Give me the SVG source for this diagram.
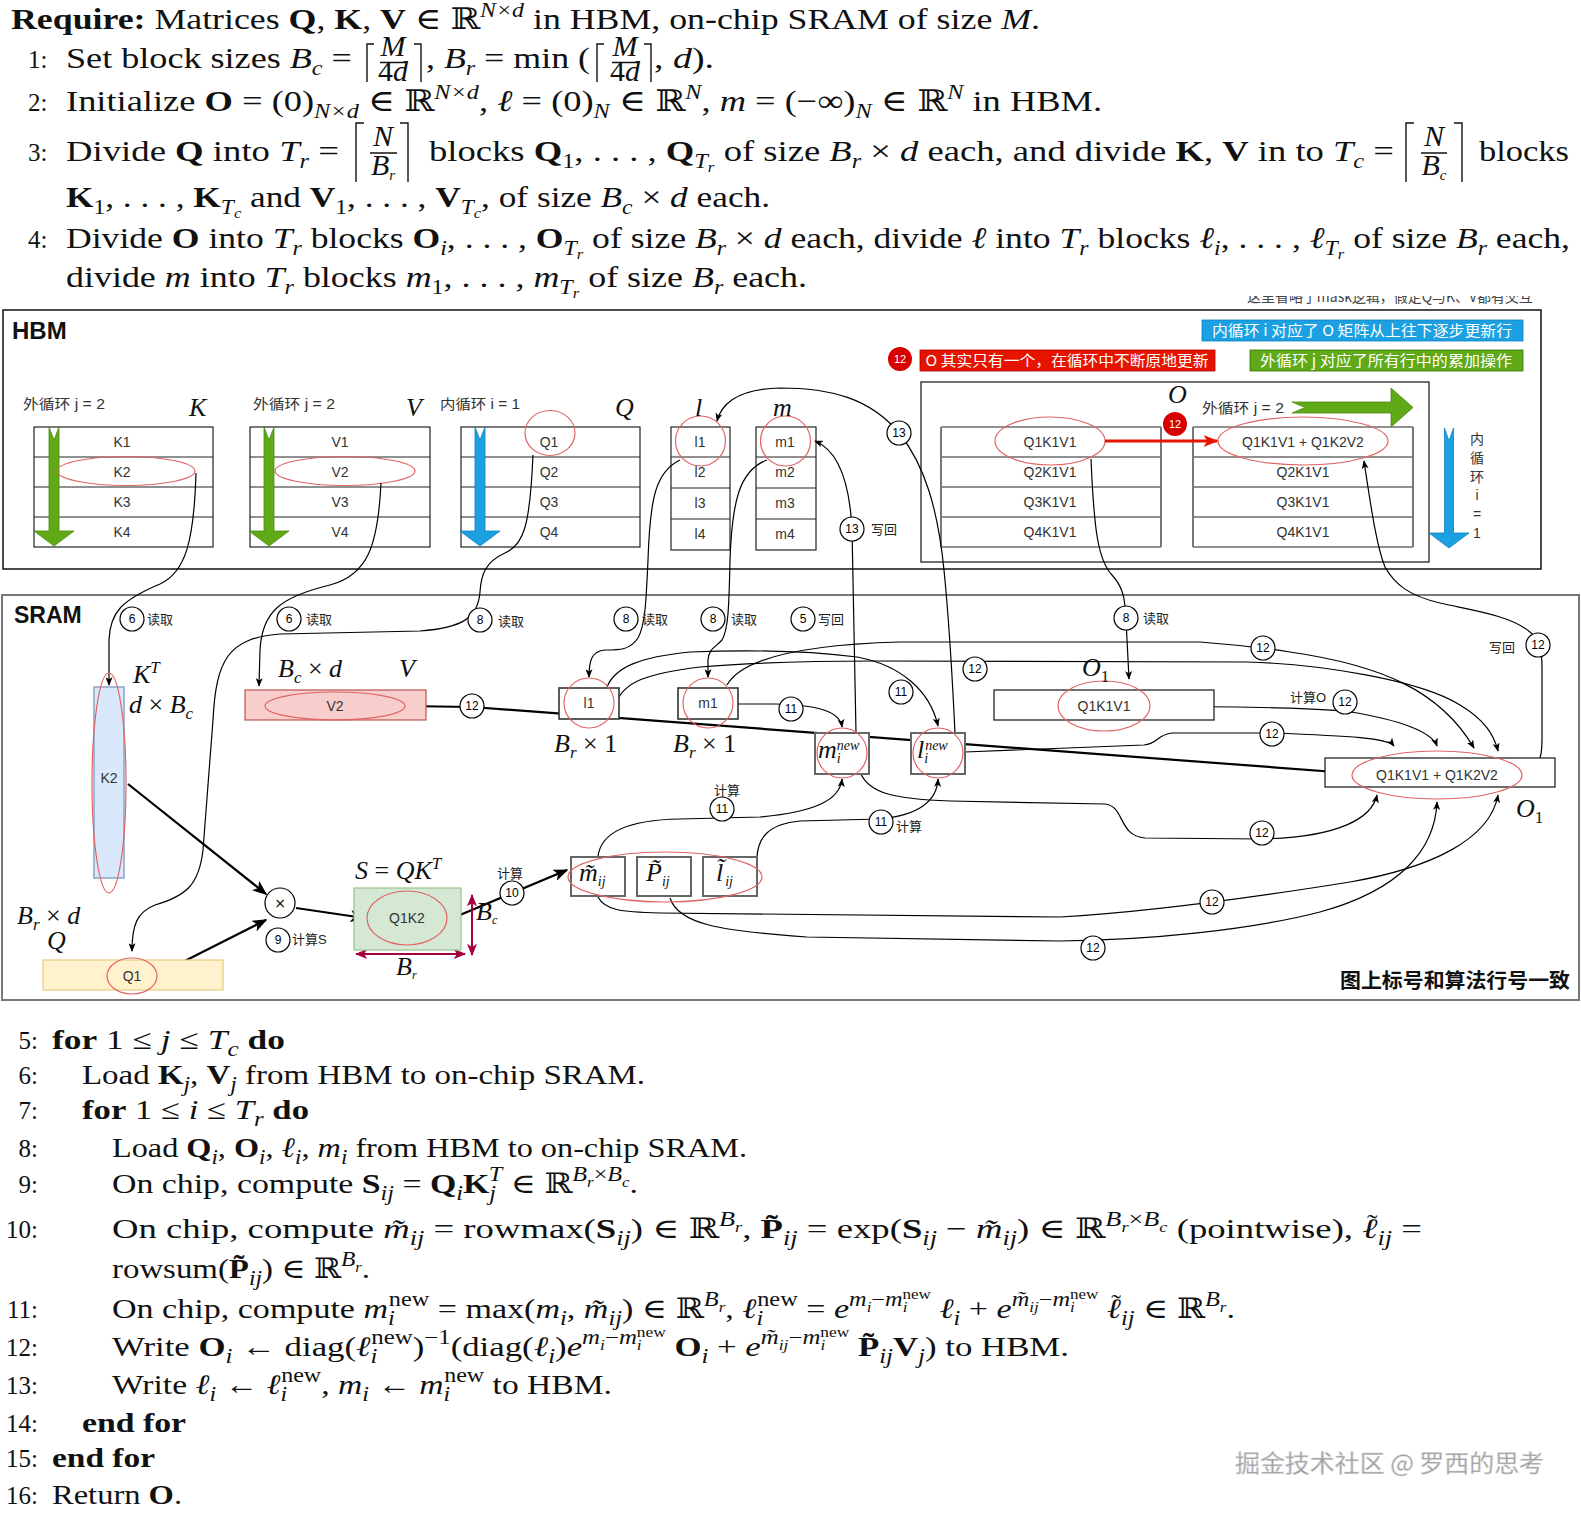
<svg xmlns="http://www.w3.org/2000/svg" width="1581" height="1513" viewBox="0 0 1581 1513">
<style>
.t{font-family:"Liberation Serif","DejaVu Serif",serif;font-size:30px;fill:#111}
.t2{font-family:"Liberation Serif","DejaVu Serif",serif;font-size:28px;fill:#111}
.n{font-family:"Liberation Serif","DejaVu Serif",serif;font-size:25px;fill:#111}
.b{font-weight:bold}
.i{font-style:italic}
.sb{font-size:20px;baseline-shift:-7px}
.sp{font-size:20px;baseline-shift:12px}
.ssb{font-size:14px;baseline-shift:6px}
.ssp{font-size:14px;baseline-shift:19px}
.sss{font-size:14px;baseline-shift:-11px}
.tl{font-size:24px;baseline-shift:7px;font-style:normal}
.s{font-family:"Liberation Sans","Noto Sans CJK SC",sans-serif;font-size:14px;fill:#333}
.cj{font-family:"Liberation Sans","Noto Sans CJK SC",sans-serif;font-size:13px;fill:#222}
.lb{font-family:"Liberation Sans",sans-serif;font-size:12px;fill:#000;text-anchor:middle}
.m{font-family:"Liberation Serif","DejaVu Serif",serif;font-style:italic;font-size:26px;fill:#111}
.msb{font-size:17px;baseline-shift:-6px}
.msp{font-size:17px;baseline-shift:10px}
.tb line{stroke:#222;stroke-width:1.2}
.tb rect{fill:#fff;stroke:#222;stroke-width:1.2}
.red{fill:none;stroke:#e06464;stroke-width:1.2}
.c{fill:none;stroke:#000;stroke-width:1.2}
.ck{fill:none;stroke:#000;stroke-width:2.2}
.lc{fill:#fff;stroke:#000;stroke-width:1.2}
.br{fill:none;stroke:#111;stroke-width:1.4}
</style>
<defs>
<marker id="a" viewBox="0 0 10 8" refX="9" refY="4" markerWidth="9" markerHeight="7" markerUnits="userSpaceOnUse" orient="auto"><path d="M0,0 L10,4 L0,8 L2.5,4 z" fill="#000"/></marker>
<marker id="ak" viewBox="0 0 10 8" refX="9" refY="4" markerWidth="15" markerHeight="12" markerUnits="userSpaceOnUse" orient="auto"><path d="M0,0 L10,4 L0,8 L2.5,4 z" fill="#000"/></marker>
<marker id="ar" viewBox="0 0 10 8" refX="9" refY="4" markerWidth="15" markerHeight="12" markerUnits="userSpaceOnUse" orient="auto"><path d="M0,0 L10,4 L0,8 L2.5,4 z" fill="#e51400"/></marker>
<marker id="ad" viewBox="0 0 10 8" refX="9" refY="4" markerWidth="13" markerHeight="10" markerUnits="userSpaceOnUse" orient="auto-start-reverse"><path d="M0,0 L10,4 L0,8 L2.5,4 z" fill="#a50040"/></marker>
<clipPath id="cl"><rect x="1200" y="296" width="380" height="13"/></clipPath>
</defs>
<rect width="1581" height="1513" fill="#fff"/>

<g id="algo-top">
<text class="t" x="11" y="29" textLength="1029" lengthAdjust="spacingAndGlyphs"><tspan class="b">Require:</tspan> Matrices <tspan class="b">Q</tspan>, <tspan class="b">K</tspan>, <tspan class="b">V</tspan> ∈ ℝ<tspan class="sp i">N×d</tspan> in HBM, on-chip SRAM of size <tspan class="i">M</tspan>.</text>
<text class="n" x="28" y="68">1:</text>
<text class="t" x="66" y="68" textLength="286" lengthAdjust="spacingAndGlyphs">Set block sizes <tspan class="i">B</tspan><tspan class="sb i">c</tspan> =</text>
<path class="br" d="M374,44 L367,44 L367,82 M414,44 L421,44 L421,82 M380,62.5 L407,62.5 M604,44 L597,44 L597,82 M644,44 L651,44 L651,82 M612,62.5 L638,62.5"/>
<text class="t i" x="393" y="56" font-size="19" text-anchor="middle">M</text>
<text class="t" x="393" y="81" font-size="19" text-anchor="middle">4<tspan class="i">d</tspan></text>
<text class="t" x="426" y="68" textLength="164" lengthAdjust="spacingAndGlyphs">, <tspan class="i">B</tspan><tspan class="sb i">r</tspan> = min (</text>
<text class="t i" x="625" y="56" font-size="19" text-anchor="middle">M</text>
<text class="t" x="625" y="81" font-size="19" text-anchor="middle">4<tspan class="i">d</tspan></text>
<text class="t" x="654" y="68" textLength="60" lengthAdjust="spacingAndGlyphs">, <tspan class="i">d</tspan>).</text>
<text class="n" x="28" y="111">2:</text>
<text class="t" x="66" y="111" textLength="1036" lengthAdjust="spacingAndGlyphs">Initialize <tspan class="b">O</tspan> = (0)<tspan class="sb i">N×d</tspan> ∈ ℝ<tspan class="sp i">N×d</tspan>, <tspan class="i">ℓ</tspan> = (0)<tspan class="sb i">N</tspan> ∈ ℝ<tspan class="sp i">N</tspan>, <tspan class="i">m</tspan> = (−∞)<tspan class="sb i">N</tspan> ∈ ℝ<tspan class="sp i">N</tspan> in HBM.</text>
<text class="n" x="28" y="161">3:</text>
<text class="t" x="66" y="161" textLength="273" lengthAdjust="spacingAndGlyphs">Divide <tspan class="b">Q</tspan> into <tspan class="i">T</tspan><tspan class="sb i">r</tspan> =</text>
<path class="br" d="M364,123 L356,123 L356,182 M400,123 L408,123 L408,182 M370,153 L397,153 M1414,123 L1406,123 L1406,182 M1454,123 L1462,123 L1462,182 M1421,153 L1447,153"/>
<text class="t i" x="383" y="146" font-size="22" text-anchor="middle">N</text>
<text class="t i" x="383" y="175" font-size="22" text-anchor="middle">B<tspan font-size="15" baseline-shift="-5">r</tspan></text>
<text class="t" x="429" y="161" textLength="965" lengthAdjust="spacingAndGlyphs">blocks <tspan class="b">Q</tspan><tspan class="sb">1</tspan>, . . . , <tspan class="b">Q</tspan><tspan class="sb i">T</tspan><tspan class="sss i">r</tspan> of size <tspan class="i">B</tspan><tspan class="sb i">r</tspan> × <tspan class="i">d</tspan> each, and divide <tspan class="b">K</tspan>, <tspan class="b">V</tspan> in to <tspan class="i">T</tspan><tspan class="sb i">c</tspan> =</text>
<text class="t i" x="1434" y="146" font-size="22" text-anchor="middle">N</text>
<text class="t i" x="1434" y="175" font-size="22" text-anchor="middle">B<tspan font-size="15" baseline-shift="-5">c</tspan></text>
<text class="t" x="1479" y="161" textLength="90" lengthAdjust="spacingAndGlyphs">blocks</text>
<text class="t" x="66" y="207" textLength="704" lengthAdjust="spacingAndGlyphs"><tspan class="b">K</tspan><tspan class="sb">1</tspan>, . . . , <tspan class="b">K</tspan><tspan class="sb i">T</tspan><tspan class="sss i">c</tspan> and <tspan class="b">V</tspan><tspan class="sb">1</tspan>, . . . , <tspan class="b">V</tspan><tspan class="sb i">T</tspan><tspan class="sss i">c</tspan>, of size <tspan class="i">B</tspan><tspan class="sb i">c</tspan> × <tspan class="i">d</tspan> each.</text>
<text class="n" x="28" y="248">4:</text>
<text class="t" x="66" y="248" textLength="1504" lengthAdjust="spacingAndGlyphs">Divide <tspan class="b">O</tspan> into <tspan class="i">T</tspan><tspan class="sb i">r</tspan> blocks <tspan class="b">O</tspan><tspan class="sb i">i</tspan>, . . . , <tspan class="b">O</tspan><tspan class="sb i">T</tspan><tspan class="sss i">r</tspan> of size <tspan class="i">B</tspan><tspan class="sb i">r</tspan> × <tspan class="i">d</tspan> each, divide <tspan class="i">ℓ</tspan> into <tspan class="i">T</tspan><tspan class="sb i">r</tspan> blocks <tspan class="i">ℓ</tspan><tspan class="sb i">i</tspan>, . . . , <tspan class="i">ℓ</tspan><tspan class="sb i">T</tspan><tspan class="sss i">r</tspan> of size <tspan class="i">B</tspan><tspan class="sb i">r</tspan> each,</text>
<text class="t" x="66" y="287" textLength="741" lengthAdjust="spacingAndGlyphs">divide <tspan class="i">m</tspan> into <tspan class="i">T</tspan><tspan class="sb i">r</tspan> blocks <tspan class="i">m</tspan><tspan class="sb">1</tspan>, . . . , <tspan class="i">m</tspan><tspan class="sb i">T</tspan><tspan class="sss i">r</tspan> of size <tspan class="i">B</tspan><tspan class="sb i">r</tspan> each.</text>
<text clip-path="url(#cl)" font-family="'Noto Sans CJK SC',sans-serif" font-size="15" fill="#444" x="1247" y="302" textLength="286" lengthAdjust="spacingAndGlyphs">这里省略了mask逻辑，假定Q与K、V都有交互</text>
</g>

<g id="hbm">
<rect x="3" y="310" width="1538" height="259" fill="none" stroke="#111" stroke-width="1.5"/>
<text x="12" y="339" font-family="'Liberation Sans',sans-serif" font-weight="bold" font-size="24" fill="#111">HBM</text>
</g>

<g id="K-table" class="tb">
<rect x="34" y="427" width="179" height="120"/>
<line x1="34" y1="457" x2="213" y2="457"/><line x1="34" y1="487" x2="213" y2="487"/><line x1="34" y1="517" x2="213" y2="517"/>
<polygon points="49,427 54,440 59,427 59,531 74,531 54,546 34,531 49,531" fill="#60a917" stroke="#4a8a10" stroke-width="0.8"/>
<text class="s" x="122" y="447" text-anchor="middle">K1</text><text class="s" x="122" y="477" text-anchor="middle">K2</text><text class="s" x="122" y="507" text-anchor="middle">K3</text><text class="s" x="122" y="537" text-anchor="middle">K4</text>
<ellipse class="red" cx="126" cy="471" rx="69" ry="14.5"/>
<text class="s" x="23" y="409" font-size="15" textLength="82" lengthAdjust="spacingAndGlyphs">外循环 j = 2</text>
<text class="m" x="189" y="416">K</text>
</g>
<g id="V-table" class="tb">
<rect x="250" y="427" width="180" height="120"/>
<line x1="250" y1="457" x2="430" y2="457"/><line x1="250" y1="487" x2="430" y2="487"/><line x1="250" y1="517" x2="430" y2="517"/>
<polygon points="264,427 269,440 274,427 274,531 289,531 269,546 249,531 264,531" fill="#60a917" stroke="#4a8a10" stroke-width="0.8"/>
<text class="s" x="340" y="447" text-anchor="middle">V1</text><text class="s" x="340" y="477" text-anchor="middle">V2</text><text class="s" x="340" y="507" text-anchor="middle">V3</text><text class="s" x="340" y="537" text-anchor="middle">V4</text>
<ellipse class="red" cx="345" cy="471" rx="70" ry="14.5"/>
<text class="s" x="253" y="409" font-size="15" textLength="82" lengthAdjust="spacingAndGlyphs">外循环 j = 2</text>
<text class="m" x="406" y="416">V</text>
</g>
<g id="Q-table" class="tb">
<rect x="461" y="427" width="179" height="120"/>
<line x1="461" y1="457" x2="640" y2="457"/><line x1="461" y1="487" x2="640" y2="487"/><line x1="461" y1="517" x2="640" y2="517"/>
<polygon points="475,427 480,440 485,427 485,531 500,531 480,546 460,531 475,531" fill="#1ba1e2" stroke="#1080c0" stroke-width="0.8"/>
<text class="s" x="549" y="447" text-anchor="middle">Q1</text><text class="s" x="549" y="477" text-anchor="middle">Q2</text><text class="s" x="549" y="507" text-anchor="middle">Q3</text><text class="s" x="549" y="537" text-anchor="middle">Q4</text>
<ellipse class="red" cx="550" cy="433" rx="25" ry="22.5"/>
<text class="s" x="440" y="409" font-size="15" textLength="80" lengthAdjust="spacingAndGlyphs">内循环 i = 1</text>
<text class="m" x="615" y="416">Q</text>
</g>
<g id="l-table" class="tb">
<rect x="671" y="427" width="59" height="123"/>
<line x1="671" y1="457" x2="730" y2="457"/><line x1="671" y1="488" x2="730" y2="488"/><line x1="671" y1="519" x2="730" y2="519"/>
<text class="s" x="700" y="447" text-anchor="middle">l1</text><text class="s" x="700" y="477" text-anchor="middle">l2</text><text class="s" x="700" y="508" text-anchor="middle">l3</text><text class="s" x="700" y="539" text-anchor="middle">l4</text>
<circle class="red" cx="700.5" cy="441" r="25"/>
<text class="m" x="695" y="416">l</text>
</g>
<g id="m-table" class="tb">
<rect x="756" y="427" width="60" height="123"/>
<line x1="756" y1="457" x2="816" y2="457"/><line x1="756" y1="488" x2="816" y2="488"/><line x1="756" y1="519" x2="816" y2="519"/>
<text class="s" x="785" y="447" text-anchor="middle">m1</text><text class="s" x="785" y="477" text-anchor="middle">m2</text><text class="s" x="785" y="508" text-anchor="middle">m3</text><text class="s" x="785" y="539" text-anchor="middle">m4</text>
<circle class="red" cx="785.5" cy="441" r="25"/>
<text class="m" x="773" y="416">m</text>
</g>
<g id="O-hbm">
<rect x="921" y="382" width="508" height="180" fill="none" stroke="#111" stroke-width="1.2"/>
<g class="tb">
<line x1="941" y1="427" x2="1161" y2="427"/><line x1="941" y1="457" x2="1161" y2="457"/><line x1="941" y1="487" x2="1161" y2="487"/><line x1="941" y1="517" x2="1161" y2="517"/><line x1="941" y1="547" x2="1161" y2="547"/>
<line x1="1193" y1="427" x2="1413" y2="427"/><line x1="1193" y1="457" x2="1413" y2="457"/><line x1="1193" y1="487" x2="1413" y2="487"/><line x1="1193" y1="517" x2="1413" y2="517"/><line x1="1193" y1="547" x2="1413" y2="547"/>
</g>
<path d="M941,427 V547 M1161,427 V547 M1193,427 V547 M1413,427 V547" stroke="#777" stroke-width="2" fill="none"/>
<text class="s" x="1050" y="447" text-anchor="middle">Q1K1V1</text><text class="s" x="1050" y="477" text-anchor="middle">Q2K1V1</text><text class="s" x="1050" y="507" text-anchor="middle">Q3K1V1</text><text class="s" x="1050" y="537" text-anchor="middle">Q4K1V1</text>
<text class="s" x="1303" y="447" text-anchor="middle">Q1K1V1 + Q1K2V2</text><text class="s" x="1303" y="477" text-anchor="middle">Q2K1V1</text><text class="s" x="1303" y="507" text-anchor="middle">Q3K1V1</text><text class="s" x="1303" y="537" text-anchor="middle">Q4K1V1</text>
<ellipse class="red" cx="1050" cy="441" rx="55" ry="24"/>
<ellipse class="red" cx="1303" cy="441" rx="85" ry="24"/>
<text class="m" x="1168" y="403">O</text>
<text class="s" x="1202" y="413" font-size="15" textLength="82" lengthAdjust="spacingAndGlyphs">外循环 j = 2</text>
<polygon points="1292,402 1305,407.5 1292,413 1391,413 1391,427 1413,407.5 1391,388 1391,402" fill="#60a917" stroke="#4a8a10" stroke-width="0.8"/>
<polygon points="1444.5,428 1449,441 1453.5,428 1453.5,533 1469,533 1449,548 1429,533 1444.5,533" fill="#1ba1e2" stroke="#1080c0" stroke-width="0.8"/>
<g class="s" text-anchor="middle" font-size="15"><text x="1477" y="444">内</text><text x="1477" y="463">循</text><text x="1477" y="482">环</text><text x="1477" y="500">i</text><text x="1477" y="519">=</text><text x="1477" y="538">1</text></g>
</g>
<g id="notes">
<rect x="1202" y="320" width="321" height="21" fill="#1ba1e2" stroke="#1080c0" stroke-width="0.8"/>
<text x="1362" y="336" text-anchor="middle" font-family="'Noto Sans CJK SC',sans-serif" font-size="15" fill="#fff" textLength="300" lengthAdjust="spacingAndGlyphs">内循环 i 对应了 O 矩阵从上往下逐步更新行</text>
<rect x="920" y="350" width="295" height="21" fill="#e51400" stroke="#b20000" stroke-width="0.8"/>
<text x="1067" y="366" text-anchor="middle" font-family="'Noto Sans CJK SC',sans-serif" font-size="15" fill="#fff" textLength="283" lengthAdjust="spacingAndGlyphs">O 其实只有一个，在循环中不断原地更新</text>
<rect x="1250" y="350" width="273" height="21" fill="#60a917" stroke="#2d7600" stroke-width="0.8"/>
<text x="1386" y="366" text-anchor="middle" font-family="'Noto Sans CJK SC',sans-serif" font-size="15" fill="#fff" textLength="252" lengthAdjust="spacingAndGlyphs">外循环 j 对应了所有行中的累加操作</text>
<circle cx="900" cy="359" r="12" fill="#d60000"/>
<text x="900" y="363" text-anchor="middle" font-family="'Liberation Sans',sans-serif" font-size="11" fill="#fff">12</text>
<circle cx="1175" cy="424" r="12" fill="#d60000"/>
<text x="1175" y="428" text-anchor="middle" font-family="'Liberation Sans',sans-serif" font-size="11" fill="#fff">12</text>
</g>

<g id="sram">
<rect x="2" y="595" width="1577" height="405" fill="none" stroke="#777" stroke-width="2"/>
<text x="14" y="623" font-family="'Liberation Sans',sans-serif" font-weight="bold" font-size="23" fill="#111">SRAM</text>
<text x="1570" y="988" text-anchor="end" font-family="'Noto Sans CJK SC',sans-serif" font-weight="bold" font-size="20" fill="#111" textLength="230" lengthAdjust="spacingAndGlyphs">图上标号和算法行号一致</text>
</g>

<g id="connectors">
<path class="c" d="M196,473 C194,540 186,572 160,584 C122,600 110,612 109,640 L109,685" marker-end="url(#a)"/>
<path class="c" d="M381,483 C378,545 368,575 330,585 C280,597 262,612 260,650 L259,686" marker-end="url(#a)"/>
<path class="c" d="M533,455 C530,525 524,545 505,553 C485,562 481,575 480,592 C478,618 462,628 420,631 L280,634 C228,638 216,660 213,720 L203,850 C199,885 186,896 155,905 C137,912 132,925 132,951" marker-end="url(#a)"/>
<path class="c" d="M680,460 C655,472 650,500 648,560 C646,605 645,625 638,638 C630,650 620,650 605,650 C592,651 589,660 589,677" marker-end="url(#a)"/>
<path class="c" d="M767,460 C740,470 732,500 730,560 C729,610 728,630 722,640 C716,647 709,648 708,660 L708,677" marker-end="url(#a)"/>
<path class="c" d="M1091,459 C1094,530 1098,560 1112,575 C1124,588 1125,600 1126,620 L1129,679" marker-end="url(#a)"/>
<path class="c" d="M1523,774 C1538,770 1542,760 1542,740 L1542,668 C1542,650 1540,640 1530,632 C1510,615 1470,610 1440,603 C1410,596 1395,585 1385,567 C1376,545 1370,500 1364,461" marker-end="url(#a)"/>
<path class="c" d="M955,733 C952,670 948,610 944,570 C938,510 925,465 899,433 C870,398 830,388 780,388 C740,389 722,402 717,421" marker-end="url(#a)"/>
<path class="c" d="M856,733 L852,529 C850,490 842,452 815,441" marker-end="url(#a)"/>
<path class="c" d="M738,704 L775,704 C820,705 840,712 842,727" marker-end="url(#a)"/>
<path class="c" d="M607,687 C615,667 640,657 690,652 C740,650 800,650 857,657 C900,665 930,690 938,726" marker-end="url(#a)"/>
<path class="c" d="M598,857 C600,836 620,820 680,819 L760,817 C815,812 840,800 842,779" marker-end="url(#a)"/>
<path class="c" d="M757,857 C758,838 768,824 800,821 L880,819 C920,815 937,800 938,779" marker-end="url(#a)"/>
<path class="c" d="M1150,706 C1250,707 1320,708 1351,712 C1400,720 1432,732 1437,746" marker-end="url(#a)"/>
<path class="c" d="M965,752 L1144,745 C1158,744 1156,735 1172,733 L1272,733 C1350,736 1388,738 1394,746" marker-end="url(#a)"/>
<path class="c" d="M727,685 C740,662 790,645 900,642 L1200,642 C1240,645 1263,648 1290,652 C1380,665 1440,690 1474,748" marker-end="url(#a)"/>
<path class="c" d="M616,703 C624,682 645,674 700,667 C760,662 820,661 873,661 L1247,662 C1320,664 1420,680 1460,705 C1485,720 1494,735 1498,751" marker-end="url(#a)"/>
<path class="c" d="M860,772 C868,792 890,799 950,801 L1105,804 C1125,806 1118,836 1145,838 L1262,839 C1340,837 1372,818 1377,795" marker-end="url(#a)"/>
<path class="c" d="M670,898 C678,924 720,931 807,937 L1060,941 C1150,940 1250,930 1320,912 C1400,890 1435,850 1437,802" marker-end="url(#a)"/>
<path class="c" d="M598,897 C605,910 620,912 660,913 L1060,917 C1150,912 1250,898 1350,882 C1430,868 1490,840 1498,795" marker-end="url(#a)"/>
<path class="ck" d="M405,706 L472,707 L1349,773" marker-end="url(#ak)"/>
<path class="ck" d="M128,784 L266,894" marker-end="url(#ak)"/>
<path class="ck" d="M157,975 L266,920" marker-end="url(#ak)"/>
<path class="ck" d="M296,908 L364,918" marker-end="url(#ak)"/>
<path class="ck" d="M448,920 L567,870" marker-end="url(#ak)"/>
<path d="M1105,441 L1217,441" fill="none" stroke="#e51400" stroke-width="3" marker-end="url(#ar)"/>
<path d="M472,895 L472,955" fill="none" stroke="#a50040" stroke-width="2" marker-start="url(#ad)" marker-end="url(#ad)"/>
<path d="M356,954 L465,954" fill="none" stroke="#a50040" stroke-width="2" marker-start="url(#ad)" marker-end="url(#ad)"/>
</g>

<g id="KT-sram">
<rect x="94" y="687" width="30" height="191" fill="#dae8fc" stroke="#8aa4c8" stroke-width="1.5"/>
<ellipse class="red" cx="109" cy="783" rx="17" ry="110"/>
<text class="s" x="109" y="783" text-anchor="middle" font-size="13">K2</text>
<text class="m" x="133" y="683">K<tspan class="msp">T</tspan></text>
<text class="m" x="129" y="713"><tspan>d</tspan><tspan font-style="normal"> × </tspan>B<tspan class="msb">c</tspan></text>
</g>
<g id="V-sram">
<rect x="245" y="690" width="181" height="30" fill="#f8cecc" stroke="#b85450" stroke-width="1.2"/>
<ellipse class="red" cx="335" cy="706" rx="70" ry="14"/>
<text class="s" x="335" y="711" text-anchor="middle" font-size="13">V2</text>
<text class="m" x="278" y="677">B<tspan class="msb">c</tspan><tspan font-style="normal"> × </tspan>d</text>
<text class="m" x="399" y="677">V</text>
</g>
<g id="Q-sram">
<rect x="43" y="960" width="180" height="30" fill="#fff2cc" stroke="#e3cc80" stroke-width="1.2"/>
<ellipse class="red" cx="132" cy="976" rx="25" ry="18"/>
<text class="s" x="132" y="981" text-anchor="middle" font-size="13">Q1</text>
<text class="m" x="17" y="924">B<tspan class="msb">r</tspan><tspan font-style="normal"> × </tspan>d</text>
<text class="m" x="47" y="949">Q</text>
</g>
<g id="mul">
<circle cx="280" cy="903" r="15" fill="#fff" stroke="#000" stroke-width="1.2"/>
<text x="280" y="908" text-anchor="middle" font-family="'DejaVu Sans',sans-serif" font-size="14">×</text>
</g>
<g id="S-sram">
<rect x="354" y="888" width="107" height="62" fill="#d5e8d4" stroke="#9ac28a" stroke-width="1.2"/>
<ellipse class="red" cx="407" cy="918" rx="40" ry="27"/>
<text class="s" x="407" y="923" text-anchor="middle" font-size="13">Q1K2</text>
<text class="m" x="355" y="879">S<tspan font-style="normal"> = </tspan>QK<tspan class="msp">T</tspan></text>
<text class="m" x="476" y="920" font-size="17">B<tspan font-size="12" baseline-shift="-4">c</tspan></text>
<text class="m" x="396" y="975" font-size="17">B<tspan font-size="12" baseline-shift="-4">r</tspan></text>
</g>
<g id="l1-sram">
<rect x="559" y="688" width="60" height="31" fill="#fff" stroke="#333" stroke-width="1.6"/>
<circle class="red" cx="589" cy="703" r="25"/>
<text class="s" x="589" y="708" text-anchor="middle">l1</text>
<text class="m" x="554" y="752">B<tspan class="msb">r</tspan><tspan font-style="normal"> × 1</tspan></text>
</g>
<g id="m1-sram">
<rect x="678" y="688" width="60" height="31" fill="#fff" stroke="#333" stroke-width="1.6"/>
<circle class="red" cx="708" cy="703" r="25"/>
<text class="s" x="708" y="708" text-anchor="middle">m1</text>
<text class="m" x="673" y="752">B<tspan class="msb">r</tspan><tspan font-style="normal"> × 1</tspan></text>
</g>
<g id="mnew">
<rect x="815" y="733" width="54" height="41" fill="#fff" stroke="#666" stroke-width="2"/>
<circle class="red" cx="842" cy="753" r="25"/>
<text class="m" x="818" y="758" font-size="22">m<tspan font-size="14" baseline-shift="-5">i</tspan><tspan font-size="14" baseline-shift="8" dx="-4">new</tspan></text>
</g>
<g id="lnew">
<rect x="911" y="733" width="54" height="41" fill="#fff" stroke="#666" stroke-width="2"/>
<circle class="red" cx="938" cy="753" r="25"/>
<text class="m" x="917" y="758" font-size="22">l<tspan font-size="14" baseline-shift="-5">i</tspan><tspan font-size="14" baseline-shift="8" dx="-3">new</tspan></text>
</g>
<g id="tilde-boxes">
<rect x="571" y="857" width="54" height="39" fill="#fff" stroke="#666" stroke-width="2"/>
<rect x="637" y="857" width="54" height="39" fill="#fff" stroke="#666" stroke-width="2"/>
<rect x="703" y="857" width="54" height="39" fill="#fff" stroke="#666" stroke-width="2"/>
<ellipse class="red" cx="665" cy="877" rx="97" ry="25"/>
<text class="m" x="579" y="881" font-size="21">m̃<tspan font-size="14" baseline-shift="-5">ij</tspan></text>
<text class="m" x="646" y="881" font-size="21">P̃<tspan font-size="14" baseline-shift="-5">ij</tspan></text>
<text class="m" x="716" y="881" font-size="21">l̃<tspan font-size="14" baseline-shift="-5" dx="2">ij</tspan></text>
</g>
<g id="O1-sram">
<rect x="994" y="690" width="220" height="30" fill="#fff" stroke="#111" stroke-width="1.2"/>
<ellipse class="red" cx="1104" cy="706" rx="46" ry="25"/>
<text class="s" x="1104" y="711" text-anchor="middle">Q1K1V1</text>
<text class="m" x="1082" y="676">O<tspan class="msb" font-style="normal">1</tspan></text>
</g>
<g id="Onew-sram">
<rect x="1325" y="758" width="230" height="29" fill="#fff" stroke="#111" stroke-width="1.2"/>
<ellipse class="red" cx="1437" cy="775" rx="85" ry="24"/>
<text class="s" x="1437" y="780" text-anchor="middle">Q1K1V1 + Q1K2V2</text>
<text class="m" x="1516" y="817">O<tspan class="msb" font-style="normal">1</tspan></text>
</g>

<g id="edge-labels">
<circle class="lc" cx="132" cy="619" r="12"/><text class="lb" x="132" y="623">6</text><text class="cj" x="147" y="624">读取</text>
<circle class="lc" cx="289" cy="619" r="12"/><text class="lb" x="289" y="623">6</text><text class="cj" x="306" y="624">读取</text>
<circle class="lc" cx="480" cy="620" r="12"/><text class="lb" x="480" y="624">8</text><text class="cj" x="498" y="626">读取</text>
<circle class="lc" cx="626" cy="619" r="12"/><text class="lb" x="626" y="623">8</text><text class="cj" x="642" y="624">读取</text>
<circle class="lc" cx="713" cy="619" r="12"/><text class="lb" x="713" y="623">8</text><text class="cj" x="731" y="624">读取</text>
<circle class="lc" cx="803" cy="619" r="12"/><text class="lb" x="803" y="623">5</text><text class="cj" x="818" y="624">写回</text>
<circle class="lc" cx="1126" cy="618" r="12"/><text class="lb" x="1126" y="622">8</text><text class="cj" x="1143" y="623">读取</text>
<circle class="lc" cx="899" cy="433" r="12"/><text class="lb" x="899" y="437">13</text>
<circle class="lc" cx="852" cy="529" r="12"/><text class="lb" x="852" y="533">13</text><text class="cj" x="871" y="534">写回</text>
<circle class="lc" cx="472" cy="706" r="12"/><text class="lb" x="472" y="710">12</text>
<circle class="lc" cx="791" cy="709" r="12"/><text class="lb" x="791" y="713">11</text>
<circle class="lc" cx="901" cy="692" r="12"/><text class="lb" x="901" y="696">11</text>
<circle class="lc" cx="975" cy="669" r="12"/><text class="lb" x="975" y="673">12</text>
<circle class="lc" cx="722" cy="809" r="12"/><text class="lb" x="722" y="813">11</text><text class="cj" x="727" y="795" text-anchor="middle">计算</text>
<circle class="lc" cx="881" cy="822" r="12"/><text class="lb" x="881" y="826">11</text><text class="cj" x="896" y="831">计算</text>
<circle class="lc" cx="278" cy="940" r="12"/><text class="lb" x="278" y="944">9</text><text class="cj" x="292" y="944">计算S</text>
<circle class="lc" cx="512" cy="893" r="12"/><text class="lb" x="512" y="897">10</text><text class="cj" x="510" y="878" text-anchor="middle">计算</text>
<circle class="lc" cx="1263" cy="648" r="12"/><text class="lb" x="1263" y="652">12</text>
<circle class="lc" cx="1538" cy="645" r="12"/><text class="lb" x="1538" y="649">12</text><text class="cj" x="1489" y="652">写回</text>
<circle class="lc" cx="1345" cy="702" r="12"/><text class="lb" x="1345" y="706">12</text><text class="cj" x="1290" y="702">计算O</text>
<circle class="lc" cx="1272" cy="734" r="12"/><text class="lb" x="1272" y="738">12</text>
<circle class="lc" cx="1262" cy="833" r="12"/><text class="lb" x="1262" y="837">12</text>
<circle class="lc" cx="1212" cy="902" r="12"/><text class="lb" x="1212" y="906">12</text>
<circle class="lc" cx="1093" cy="948" r="12"/><text class="lb" x="1093" y="952">12</text>
</g>

<g id="algo-bottom">
<g class="n" text-anchor="end"><text x="38" y="1049">5:</text><text x="38" y="1084">6:</text><text x="38" y="1119">7:</text><text x="38" y="1157">8:</text><text x="38" y="1193">9:</text><text x="38" y="1238">10:</text><text x="38" y="1318">11:</text><text x="38" y="1356">12:</text><text x="38" y="1394">13:</text><text x="38" y="1432">14:</text><text x="38" y="1467">15:</text><text x="38" y="1504">16:</text></g>
<text class="t2" x="52" y="1049" textLength="233" lengthAdjust="spacingAndGlyphs"><tspan class="b">for</tspan> 1 ≤ <tspan class="i">j</tspan> ≤ <tspan class="i">T</tspan><tspan class="sb i">c</tspan> <tspan class="b">do</tspan></text>
<text class="t2" x="82" y="1084" textLength="563" lengthAdjust="spacingAndGlyphs">Load <tspan class="b">K</tspan><tspan class="sb i">j</tspan>, <tspan class="b">V</tspan><tspan class="sb i">j</tspan> from HBM to on-chip SRAM.</text>
<text class="t2" x="82" y="1119" textLength="227" lengthAdjust="spacingAndGlyphs"><tspan class="b">for</tspan> 1 ≤ <tspan class="i">i</tspan> ≤ <tspan class="i">T</tspan><tspan class="sb i">r</tspan> <tspan class="b">do</tspan></text>
<text class="t2" x="112" y="1157" textLength="635" lengthAdjust="spacingAndGlyphs">Load <tspan class="b">Q</tspan><tspan class="sb i">i</tspan>, <tspan class="b">O</tspan><tspan class="sb i">i</tspan>, <tspan class="i">ℓ</tspan><tspan class="sb i">i</tspan>, <tspan class="i">m</tspan><tspan class="sb i">i</tspan> from HBM to on-chip SRAM.</text>
<text class="t2" x="112" y="1193" textLength="526" lengthAdjust="spacingAndGlyphs">On chip, compute <tspan class="b">S</tspan><tspan class="sb i">ij</tspan> = <tspan class="b">Q</tspan><tspan class="sb i">i</tspan><tspan class="b">K</tspan><tspan class="sb i">j</tspan><tspan class="sp i" dx="-6">T</tspan> ∈ ℝ<tspan class="sp i">B</tspan><tspan class="ssb i">r</tspan><tspan class="sp">×</tspan><tspan class="sp i">B</tspan><tspan class="ssb i">c</tspan>.</text>
<text class="t2" x="112" y="1238" textLength="1310" lengthAdjust="spacingAndGlyphs">On chip, compute <tspan class="i">m̃</tspan><tspan class="sb i">ij</tspan> = rowmax(<tspan class="b">S</tspan><tspan class="sb i">ij</tspan>) ∈ ℝ<tspan class="sp i">B</tspan><tspan class="ssb i">r</tspan>, <tspan class="b">P̃</tspan><tspan class="sb i">ij</tspan> = exp(<tspan class="b">S</tspan><tspan class="sb i">ij</tspan> − <tspan class="i">m̃</tspan><tspan class="sb i">ij</tspan>) ∈ ℝ<tspan class="sp i">B</tspan><tspan class="ssb i">r</tspan><tspan class="sp">×</tspan><tspan class="sp i">B</tspan><tspan class="ssb i">c</tspan> (pointwise), <tspan class="i">ℓ</tspan><tspan class="tl" dx="-8">˜</tspan><tspan class="sb i">ij</tspan> =</text>
<text class="t2" x="112" y="1278" textLength="258" lengthAdjust="spacingAndGlyphs">rowsum(<tspan class="b">P̃</tspan><tspan class="sb i">ij</tspan>) ∈ ℝ<tspan class="sp i">B</tspan><tspan class="ssb i">r</tspan>.</text>
<text class="t2" x="112" y="1318" textLength="1123" lengthAdjust="spacingAndGlyphs">On chip, compute <tspan class="i">m</tspan><tspan class="sb i">i</tspan><tspan class="sp" dx="-5">new</tspan> = max(<tspan class="i">m</tspan><tspan class="sb i">i</tspan>, <tspan class="i">m̃</tspan><tspan class="sb i">ij</tspan>) ∈ ℝ<tspan class="sp i">B</tspan><tspan class="ssb i">r</tspan>, <tspan class="i">ℓ</tspan><tspan class="sb i">i</tspan><tspan class="sp" dx="-5">new</tspan> = <tspan class="i">e</tspan><tspan class="sp i">m</tspan><tspan class="ssb i">i</tspan><tspan class="sp">−</tspan><tspan class="sp i">m</tspan><tspan class="ssb i">i</tspan><tspan class="ssp" dx="-4">new</tspan> <tspan class="i">ℓ</tspan><tspan class="sb i">i</tspan> + <tspan class="i">e</tspan><tspan class="sp i">m̃</tspan><tspan class="ssb i">ij</tspan><tspan class="sp">−</tspan><tspan class="sp i">m</tspan><tspan class="ssb i">i</tspan><tspan class="ssp" dx="-4">new</tspan> <tspan class="i">ℓ</tspan><tspan class="tl" dx="-8">˜</tspan><tspan class="sb i">ij</tspan> ∈ ℝ<tspan class="sp i">B</tspan><tspan class="ssb i">r</tspan>.</text>
<text class="t2" x="112" y="1356" textLength="957" lengthAdjust="spacingAndGlyphs">Write <tspan class="b">O</tspan><tspan class="sb i">i</tspan> ← diag(<tspan class="i">ℓ</tspan><tspan class="sb i">i</tspan><tspan class="sp" dx="-5">new</tspan>)<tspan class="sp">−1</tspan>(diag(<tspan class="i">ℓ</tspan><tspan class="sb i">i</tspan>)<tspan class="i">e</tspan><tspan class="sp i">m</tspan><tspan class="ssb i">i</tspan><tspan class="sp">−</tspan><tspan class="sp i">m</tspan><tspan class="ssb i">i</tspan><tspan class="ssp" dx="-4">new</tspan> <tspan class="b">O</tspan><tspan class="sb i">i</tspan> + <tspan class="i">e</tspan><tspan class="sp i">m̃</tspan><tspan class="ssb i">ij</tspan><tspan class="sp">−</tspan><tspan class="sp i">m</tspan><tspan class="ssb i">i</tspan><tspan class="ssp" dx="-4">new</tspan> <tspan class="b">P̃</tspan><tspan class="sb i">ij</tspan><tspan class="b">V</tspan><tspan class="sb i">j</tspan>) to HBM.</text>
<text class="t2" x="112" y="1394" textLength="500" lengthAdjust="spacingAndGlyphs">Write <tspan class="i">ℓ</tspan><tspan class="sb i">i</tspan> ← <tspan class="i">ℓ</tspan><tspan class="sb i">i</tspan><tspan class="sp" dx="-5">new</tspan>, <tspan class="i">m</tspan><tspan class="sb i">i</tspan> ← <tspan class="i">m</tspan><tspan class="sb i">i</tspan><tspan class="sp" dx="-5">new</tspan> to HBM.</text>
<text class="t2 b" x="82" y="1432" textLength="104" lengthAdjust="spacingAndGlyphs">end for</text>
<text class="t2 b" x="52" y="1467" textLength="103" lengthAdjust="spacingAndGlyphs">end for</text>
<text class="t2" x="52" y="1504" textLength="130" lengthAdjust="spacingAndGlyphs">Return <tspan class="b">O</tspan>.</text>
<text x="1235" y="1472" font-family="'Noto Sans CJK SC',sans-serif" font-size="24" fill="#9a9a9a" stroke="#d8d8d8" stroke-width="0.6" textLength="309" lengthAdjust="spacingAndGlyphs">掘金技术社区 @ 罗西的思考</text>
</g>
</svg>
